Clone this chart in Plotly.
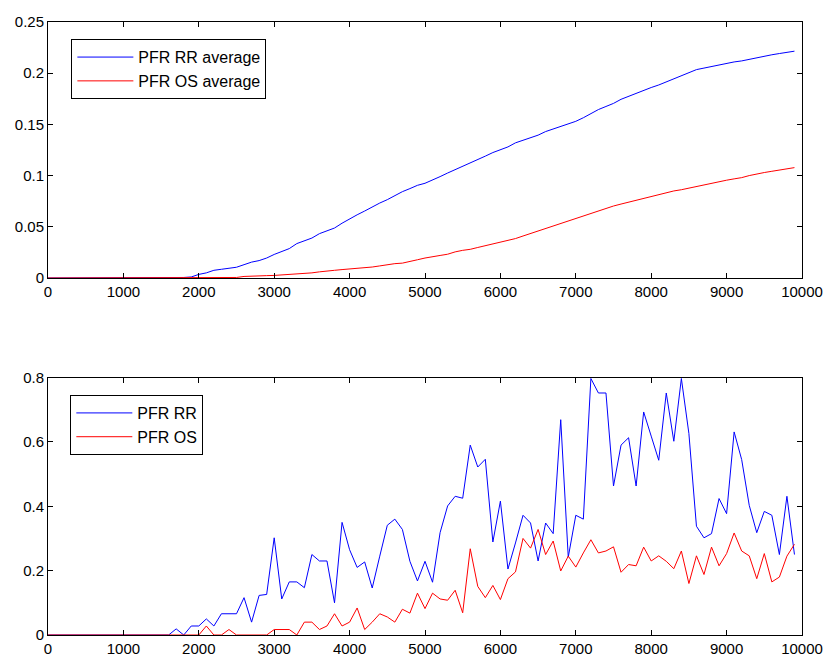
import plotly.graph_objects as go
from plotly.subplots import make_subplots

x = list(range(0, 10000, 100))

rr_avg = [0.0] * 18 + [
    0.0005, 0.001, 0.0035, 0.005, 0.0075, 0.0085, 0.0095, 0.0105, 0.013, 0.0155,
    0.017, 0.0195, 0.023, 0.0255, 0.0287, 0.0336, 0.0362, 0.039, 0.0433, 0.046,
    0.0488, 0.0535, 0.058, 0.0617, 0.0654, 0.0695, 0.0732, 0.0765, 0.0808, 0.0843,
    0.0873, 0.0905, 0.0925, 0.0955, 0.099, 0.1025, 0.1058, 0.1092, 0.1125, 0.115,
    0.119, 0.1225, 0.125, 0.128, 0.132, 0.1345, 0.137, 0.1395, 0.143, 0.1455,
    0.148, 0.1505, 0.153, 0.1565, 0.1605, 0.1645, 0.1675, 0.1705, 0.1745, 0.1775,
    0.1805, 0.1835, 0.186, 0.1885, 0.1915, 0.194, 0.197, 0.2005, 0.2035, 0.205,
    0.2065, 0.2085, 0.2095, 0.211, 0.212, 0.2135, 0.2155, 0.2168, 0.218, 0.2192,
    0.2202, 0.2215]

os_avg = [0.0] * 25 + [
    0.0005, 0.0015, 0.002, 0.0022, 0.0023, 0.0025, 0.003, 0.0033, 0.0036, 0.0042,
    0.005, 0.006, 0.007, 0.0075, 0.0082, 0.0087, 0.0095, 0.0102, 0.0107, 0.0118,
    0.013, 0.014, 0.0145, 0.0158, 0.0178, 0.0195, 0.021, 0.022, 0.0232, 0.0255,
    0.027, 0.028, 0.0298, 0.0315, 0.033, 0.035, 0.0368, 0.0385, 0.041, 0.0435,
    0.046, 0.0485, 0.051, 0.0535, 0.0558, 0.0582, 0.0605, 0.063, 0.0655, 0.0678,
    0.0703, 0.0722, 0.074, 0.0762, 0.0778, 0.0795, 0.0815, 0.0834, 0.085, 0.0862,
    0.0878, 0.0895, 0.091, 0.0928, 0.0942, 0.0955, 0.0968, 0.098, 0.1, 0.1018,
    0.103, 0.1042, 0.1053, 0.1065, 0.1078]

rr = [0.0] * 17 + [
    0.019, 0.0, 0.028, 0.028, 0.05, 0.028, 0.066, 0.066, 0.066, 0.116,
    0.04, 0.123, 0.126, 0.302, 0.112, 0.165, 0.165, 0.147, 0.25, 0.23,
    0.23, 0.1, 0.35, 0.265, 0.21, 0.227, 0.146, 0.245, 0.341, 0.36,
    0.328, 0.229, 0.168, 0.229, 0.164, 0.318, 0.401, 0.431, 0.425, 0.59,
    0.522, 0.546, 0.289, 0.416, 0.205, 0.286, 0.372, 0.348, 0.23, 0.348,
    0.315, 0.669, 0.242, 0.372, 0.36, 0.797, 0.752, 0.752, 0.463, 0.59,
    0.613, 0.463, 0.693, 0.618, 0.543, 0.752, 0.602, 0.797, 0.626, 0.338,
    0.302, 0.315, 0.424, 0.377, 0.631, 0.545, 0.403, 0.318, 0.384, 0.372,
    0.25, 0.431, 0.25]

os_ = [0.0] * 21 + [
    0.028, 0.0, 0.0, 0.017, 0.0, 0.0, 0.0, 0.0, 0.0, 0.017,
    0.017, 0.017, 0.0, 0.04, 0.04, 0.017, 0.028, 0.066, 0.028, 0.04,
    0.084, 0.017, 0.04, 0.066, 0.056, 0.04, 0.08, 0.068, 0.13, 0.082,
    0.13, 0.112, 0.108, 0.139, 0.069, 0.268, 0.151, 0.116, 0.154, 0.11,
    0.175, 0.196, 0.3, 0.27, 0.328, 0.25, 0.292, 0.199, 0.245, 0.211,
    0.255, 0.296, 0.255, 0.261, 0.274, 0.195, 0.219, 0.215, 0.273, 0.23,
    0.246, 0.229, 0.206, 0.261, 0.16, 0.246, 0.188, 0.273, 0.215, 0.253,
    0.317, 0.261, 0.246, 0.175, 0.253, 0.165, 0.18, 0.245, 0.282]

xticks = list(range(0, 10001, 1000))
xticktext = [str(v) for v in xticks]
top_yticks = [0, 0.05, 0.1, 0.15, 0.2, 0.25]
top_yticktext = ["0", "0.05", "0.1", "0.15", "0.2", "0.25"]
bot_yticks = [0, 0.2, 0.4, 0.6, 0.8]
bot_yticktext = ["0", "0.2", "0.4", "0.6", "0.8"]

FONT = "Liberation Sans, Arial, sans-serif"
BLUE = "#0000ff"
RED = "#ff0000"

fig = make_subplots(rows=2, cols=1, vertical_spacing=0.1)

fig.add_trace(go.Scatter(x=x, y=rr_avg, mode="lines", name="PFR RR average",
                         line=dict(color=BLUE, width=1), legend="legend"), row=1, col=1)
fig.add_trace(go.Scatter(x=x, y=os_avg, mode="lines", name="PFR OS average",
                         line=dict(color=RED, width=1), legend="legend"), row=1, col=1)
fig.add_trace(go.Scatter(x=x, y=rr, mode="lines", name="PFR RR",
                         line=dict(color=BLUE, width=1), legend="legend2"), row=2, col=1)
fig.add_trace(go.Scatter(x=x, y=os_, mode="lines", name="PFR OS",
                         line=dict(color=RED, width=1), legend="legend2"), row=2, col=1)

axis_common = dict(showline=True, linecolor="black", linewidth=1, mirror="ticks",
                   ticks="inside", ticklen=5, tickcolor="black", showgrid=False,
                   zeroline=False, tickfont=dict(family=FONT, size=15, color="black"),
                   automargin=False)

fig.update_xaxes(range=[0, 10000], tickvals=xticks, ticktext=xticktext, **axis_common)
fig.update_yaxes(**axis_common)
fig.update_yaxes(range=[0, 0.25], tickvals=top_yticks, ticktext=top_yticktext, row=1, col=1)
fig.update_yaxes(range=[0, 0.8], tickvals=bot_yticks, ticktext=bot_yticktext, row=2, col=1)

fig.update_layout(
    width=824, height=654,
    margin=dict(l=48, r=22, t=22, b=19),
    paper_bgcolor="white", plot_bgcolor="white",
    font=dict(family=FONT, size=15, color="black"),
    xaxis=dict(domain=[0, 1]),
    yaxis=dict(domain=[0.5824, 1.0]),
    xaxis2=dict(domain=[0, 1], ticklabelstandoff=0),
    yaxis2=dict(domain=[0.0, 0.42]),
    legend=dict(x=0.031, y=0.972, xanchor="left", yanchor="top",
                bgcolor="white", bordercolor="black", borderwidth=1,
                itemwidth=56, font=dict(family=FONT, size=16, color="black"),
                tracegroupgap=0),
    legend2=dict(x=0.0296, y=0.3915, xanchor="left", yanchor="top",
                 bgcolor="white", bordercolor="black", borderwidth=1,
                 itemwidth=56, font=dict(family=FONT, size=16, color="black"),
                 tracegroupgap=0),
    showlegend=True,
)

fig.write_html("out.html")
